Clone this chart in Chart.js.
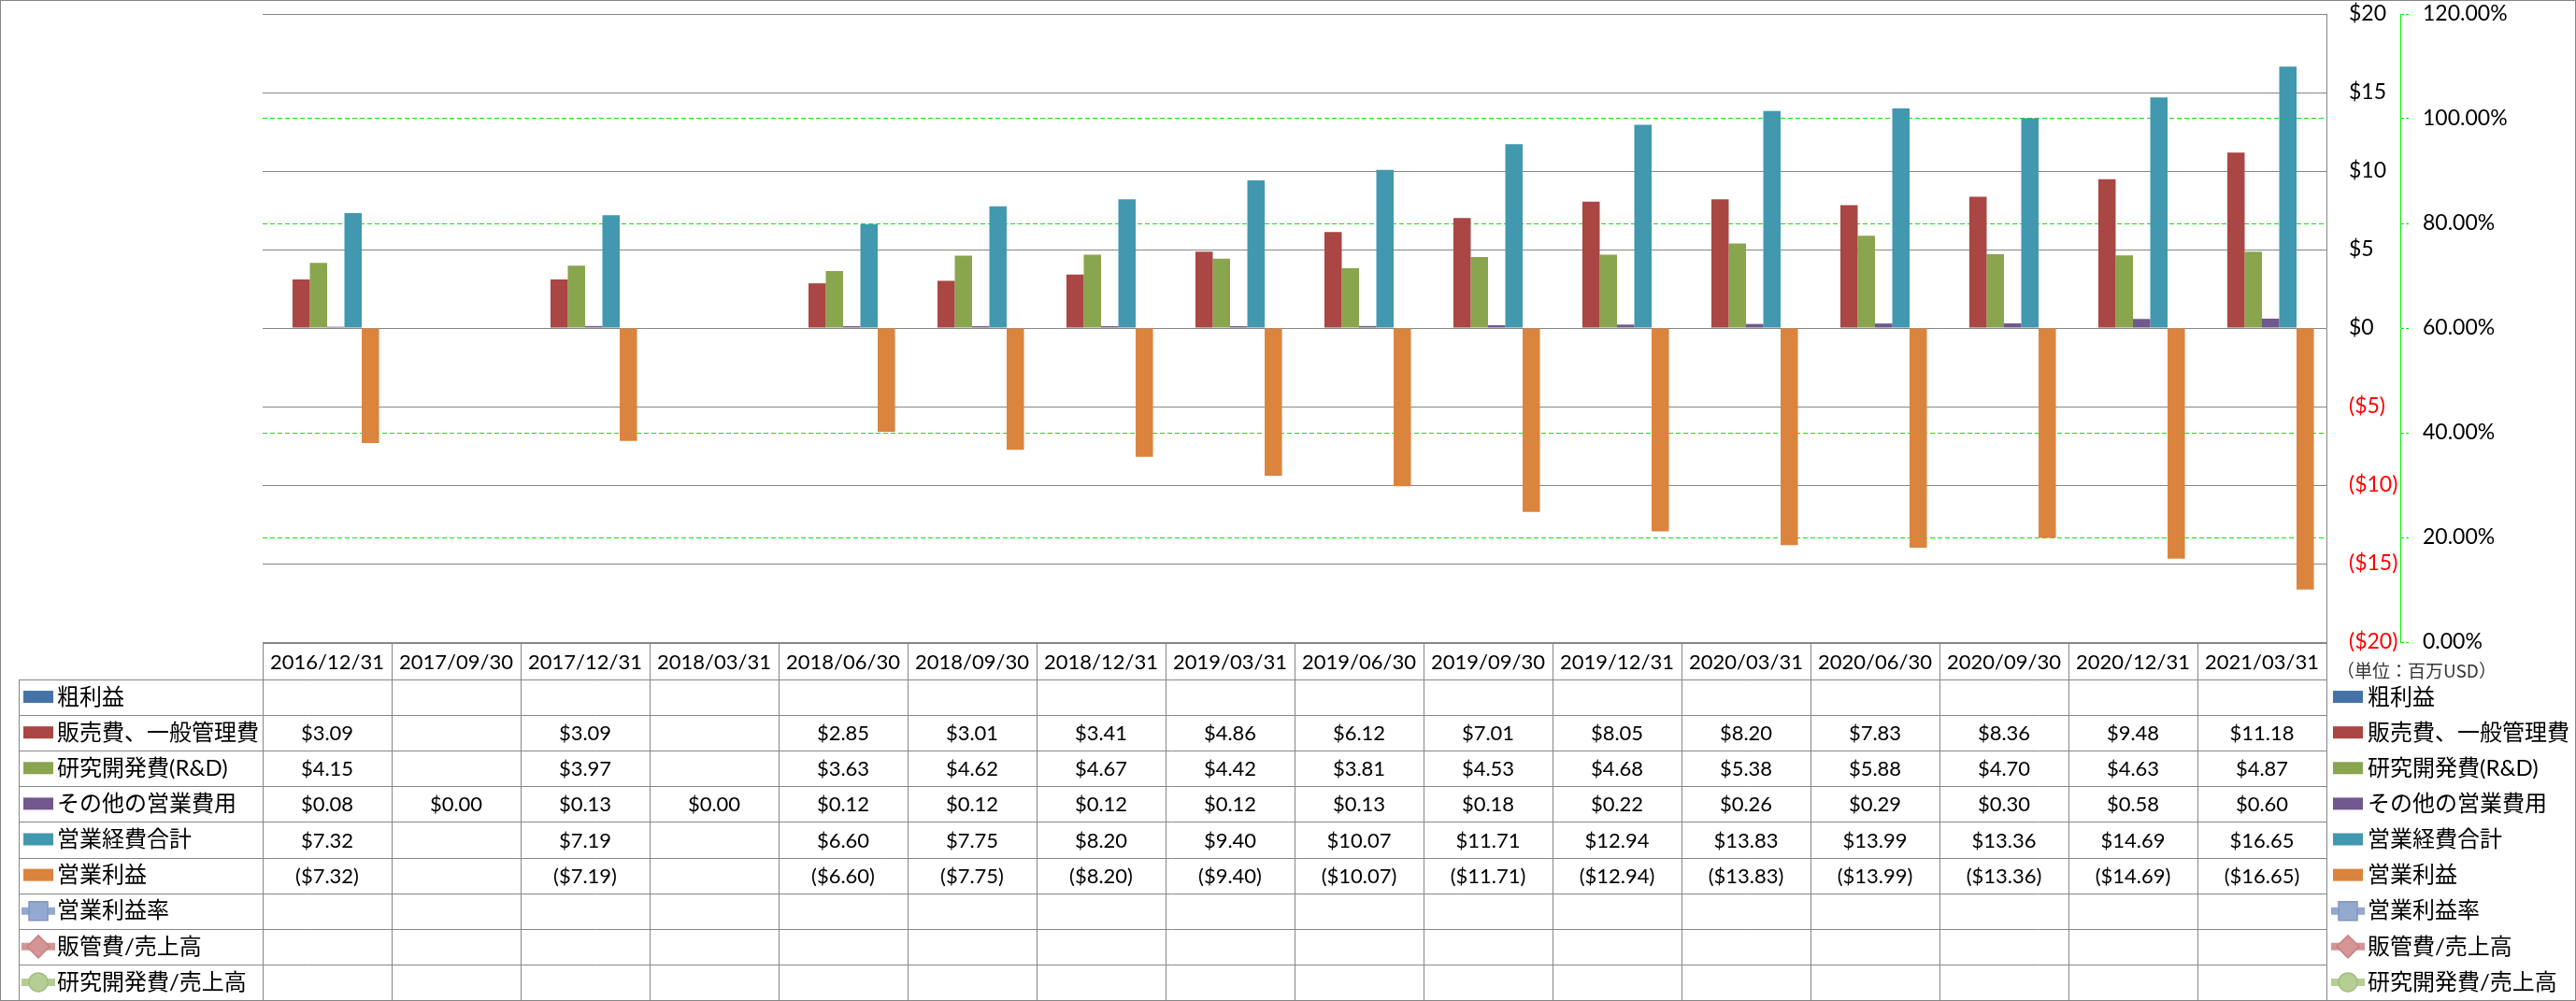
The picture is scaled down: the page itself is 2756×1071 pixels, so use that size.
<!DOCTYPE html>
<html><head><meta charset="utf-8">
<script src="https://cdn.jsdelivr.net/npm/chart.js@4.4.1/dist/chart.umd.min.js"></script>
<style>html,body{margin:0;padding:0;background:#fff}#wrap{width:2756px;height:1071px;position:relative}</style>
</head><body><div id="wrap"><canvas id="c" width="2756" height="1071"></canvas></div>
<script>
// ---- data (百万USD) ----
const categories = ['2016/12/31','2017/09/30','2017/12/31','2018/03/31','2018/06/30','2018/09/30','2018/12/31','2019/03/31','2019/06/30','2019/09/30','2019/12/31','2020/03/31','2020/06/30','2020/09/30','2020/12/31','2021/03/31'];
const grossProfit = [null,null,null,null,null,null,null,null,null,null,null,null,null,null,null,null];
const sgaExpense = [3.09,null,3.09,null,2.85,3.01,3.41,4.86,6.12,7.01,8.05,8.20,7.83,8.36,9.48,11.18];
const rdExpense = [4.15,null,3.97,null,3.63,4.62,4.67,4.42,3.81,4.53,4.68,5.38,5.88,4.70,4.63,4.87];
const otherOpExpense = [0.08,0.00,0.13,0.00,0.12,0.12,0.12,0.12,0.13,0.18,0.22,0.26,0.29,0.30,0.58,0.60];
const totalOpExpense = [7.32,null,7.19,null,6.60,7.75,8.20,9.40,10.07,11.71,12.94,13.83,13.99,13.36,14.69,16.65];
const operatingIncome = [-7.32,null,-7.19,null,-6.60,-7.75,-8.20,-9.40,-10.07,-11.71,-12.94,-13.83,-13.99,-13.36,-14.69,-16.65];
const opMargin = [null,null,null,null,null,null,null,null,null,null,null,null,null,null,null,null];
const sgaRatio = [null,null,null,null,null,null,null,null,null,null,null,null,null,null,null,null];
const rdRatio = [null,null,null,null,null,null,null,null,null,null,null,null,null,null,null,null];
const seriesNames = ['粗利益','販売費、一般管理費','研究開発費(R&D)','その他の営業費用','営業経費合計','営業利益','営業利益率','販管費/売上高','研究開発費/売上高'];
const unitLabel = '（単位：百万USD）';
const usdTicks = {min:-20, max:20, step:5};
const pctTicks = {min:0, max:120, step:20};

const LATIN = 'Lato';
const JP = '"Noto Sans CJK JP"';
const GRID = '#868686';
const GREEN = '#00F000';

function fmtUSD(v){
  if (v === null || v === undefined) return '';
  return v < 0 ? '($' + Math.abs(v).toFixed(2) + ')' : '$' + v.toFixed(2);
}
function fmtTick(v){ return v < 0 ? '($' + Math.abs(v) + ')' : '$' + v; }

const tablePlugin = {
  id: 'dataTable',
  beforeDraw(chart){
    const ctx = chart.ctx;
    ctx.save();
    ctx.fillStyle = '#fff';
    ctx.fillRect(0,0,chart.width,chart.height);
    ctx.restore();
  },
  afterDraw(chart){
    const ctx = chart.ctx;
    const area = chart.chartArea;
    const xs = chart.scales.x;
    const n = categories.length;
    const colW = (area.right - area.left) / n;
    const tTop = Math.round(area.bottom) + 1;
    const hBot = tTop + 39;
    const tBot = chart.height - 1;
    const rows = chart.data.datasets.length;
    const rowH = (tBot - hBot) / rows;
    const labL = 20;
    const L = Math.round(area.left), R = Math.round(area.right);
    ctx.save();
    ctx.strokeStyle = GRID; ctx.lineWidth = 1;
    const hl = (x1,x2,y)=>{ctx.beginPath();ctx.moveTo(x1,Math.round(y)+0.5);ctx.lineTo(x2,Math.round(y)+0.5);ctx.stroke();};
    const vl = (x,y1,y2)=>{ctx.beginPath();ctx.moveTo(Math.round(x)+0.5,y1);ctx.lineTo(Math.round(x)+0.5,y2);ctx.stroke();};
    hl(L, R, tTop);
    for (let r = 0; r <= rows; r++) hl(labL, R, hBot + r*rowH);
    for (let i = 0; i <= n; i++) vl(area.left + i*colW, tTop, tBot+1);
    vl(labL, hBot, tBot+1);
    ctx.strokeRect(0.5,0.5,chart.width-1,chart.height-1);
    ctx.fillStyle = '#000';
    ctx.textAlign = 'center'; ctx.textBaseline = 'middle';
    ctx.font = '22px ' + LATIN;
    for (let i = 0; i < n; i++) {
      const cx = xs.getPixelForValue(i);
      ctx.fillText(categories[i], cx, (tTop + hBot)/2 + 1);
    }
    chart.data.datasets.forEach((ds, r) => {
      const cy = hBot + r*rowH + rowH/2;
      ctx.textAlign = 'center';
      ctx.font = '22px ' + LATIN;
      ctx.fillStyle = '#000';
      if (ds.type !== 'line') {
        ds.data.forEach((v, i) => {
          const t = fmtUSD(v);
          if (t) ctx.fillText(t, xs.getPixelForValue(i), cy + 1);
        });
      }
      drawMarker(ctx, ds, 25, cy);
      ctx.textAlign = 'left';
      ctx.fillStyle = '#000';
      ctx.font = '24px ' + LATIN + ',' + JP;
      ctx.fillText(ds.label, 61, cy);
      drawMarker(ctx, ds, 2496, cy);
      ctx.textAlign = 'left';
      ctx.fillStyle = '#000';
      ctx.font = '24px ' + LATIN + ',' + JP;
      ctx.fillText(ds.label, 2533, cy);
    });
    ctx.textAlign = 'left';
    ctx.fillStyle = '#333';
    ctx.font = '19px ' + JP;
    ctx.fillText(unitLabel, 2500, tTop + 30);
    ctx.restore();
  }
};

function drawMarker(ctx, ds, x, cy){
  ctx.save();
  if (ds.type === 'line') {
    ctx.strokeStyle = ds.borderColor; ctx.lineWidth = 8;
    ctx.beginPath(); ctx.moveTo(x-2, cy); ctx.lineTo(x+34, cy); ctx.stroke();
    const mx = x + 16;
    ctx.fillStyle = ds.pointBackgroundColor;
    ctx.strokeStyle = ds.pointBorderColor; ctx.lineWidth = 1.5;
    ctx.beginPath();
    if (ds.pointStyle === 'rect') { ctx.rect(mx-10, cy-10, 20, 20); }
    else if (ds.pointStyle === 'rectRot') { ctx.moveTo(mx, cy-12); ctx.lineTo(mx+12, cy); ctx.lineTo(mx, cy+12); ctx.lineTo(mx-12, cy); ctx.closePath(); }
    else { ctx.arc(mx, cy, 10, 0, Math.PI*2); }
    ctx.fill(); ctx.stroke();
  } else {
    ctx.fillStyle = ds.backgroundColor;
    ctx.fillRect(x, cy - 7, 32, 13);
  }
  ctx.restore();
}

const barColors = ['#4572A7','#AA4643','#89A54E','#71588F','#4198AF','#DB843D'];
const barSeries = [grossProfit, sgaExpense, rdExpense, otherOpExpense, totalOpExpense, operatingIncome];
const lineSeries = [opMargin, sgaRatio, rdRatio];
const lineColors = ['#93A9CF','#D49594','#B6CE94'];
const lineMarkerBorder = ['#8196C0','#C48180','#A3BD80'];
const lineStyles = ['rect','rectRot','circle'];

const datasets = [];
barSeries.forEach((d, i) => datasets.push({
  type:'bar', label: seriesNames[i], data: d, backgroundColor: barColors[i], yAxisID:'y',
  categoryPercentage: 0.805, barPercentage: 1.0
}));
lineSeries.forEach((d, i) => datasets.push({
  type:'line', label: seriesNames[6+i], data: d, yAxisID:'y1',
  borderColor: lineColors[i], backgroundColor: lineColors[i],
  pointBackgroundColor: lineColors[i], pointBorderColor: lineMarkerBorder[i],
  pointStyle: lineStyles[i], borderWidth: 3
}));

const noPad = s => { s.paddingTop = 0; s.paddingBottom = 0; };

new Chart(document.getElementById('c'), {
  type: 'bar',
  data: { labels: categories, datasets },
  options: {
    responsive: false, animation: false, devicePixelRatio: 1,
    layout: { padding: { left: 281, top: 15, right: 0, bottom: 1071 - 687 } },
    plugins: { legend: { display: false }, tooltip: { enabled: false } },
    scales: {
      x: { display: false, offset: true },
      y: {
        position: 'right', weight: 0,
        min: usdTicks.min, max: usdTicks.max,
        ticks: { stepSize: usdTicks.step, padding: 24, callback: v => fmtTick(v),
          color: c => c.tick && c.tick.value < 0 ? '#FF0000' : '#000',
          font: { family: LATIN, size: 23 } },
        grid: { color: GRID, lineWidth: 1, drawTicks: false },
        border: { display: true, color: GRID, width: 1 },
        afterFit: s => { s.width = 79; noPad(s); }
      },
      y1: {
        position: 'right', weight: 1,
        min: pctTicks.min, max: pctTicks.max,
        ticks: { stepSize: pctTicks.step, padding: 15, callback: v => v.toFixed(2) + '%',
          color: '#000', font: { family: LATIN, size: 23 } },
        grid: {
          color: c => (c.tick && [0,60,120].includes(c.tick.value)) ? 'rgba(0,0,0,0)' : GREEN,
          tickColor: GREEN, lineWidth: 1, drawTicks: true, tickLength: 9,
          borderDash: [5,3], tickBorderDash: [3,2]
        },
        border: { display: true, color: GREEN, width: 1, dash: [5,3] },
        afterFit: s => { s.width = 2756 - 2568; noPad(s); }
      }
    }
  },
  plugins: [tablePlugin]
});
</script></body></html>
